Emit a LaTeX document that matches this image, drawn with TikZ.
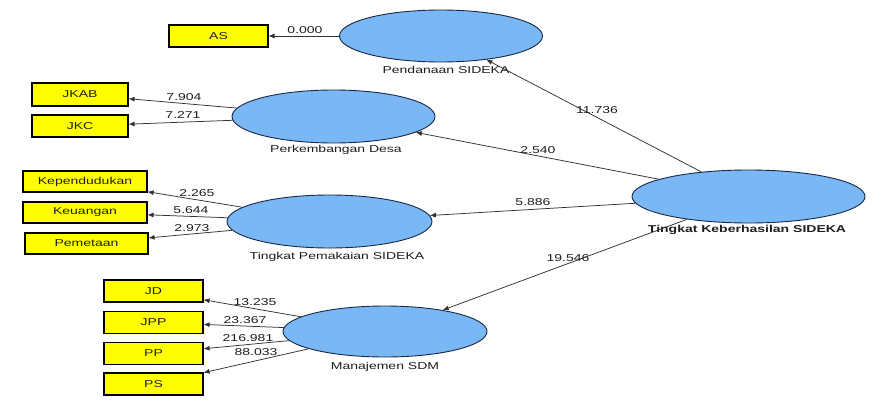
\documentclass[tikz,border=0pt]{standalone}
\usepackage{fontspec}
\setmainfont{Liberation Sans}[FakeStretch=1.4]
\usetikzlibrary{shapes.geometric,arrows.meta}
\definecolor{lvfill}{RGB}{122,183,245}
\definecolor{lvdraw}{RGB}{25,40,70}
\definecolor{mvfill}{RGB}{255,255,0}
\definecolor{edgecol}{RGB}{50,50,50}
\definecolor{txtcol}{RGB}{30,30,30}
\tikzset{
  lv/.style={ellipse, draw=lvdraw, line width=0.9pt, fill=lvfill, inner sep=0pt},
  mv/.style={rectangle, draw=black, line width=1.1pt, fill=mvfill, inner sep=0pt,
             minimum width=99pt, minimum height=22pt, font=\fontsize{10}{12}\selectfont, text=txtcol},
  lvlabel/.style={font=\fontsize{10}{12}\selectfont, text=txtcol, inner sep=0pt},
  elab/.style={font=\fontsize{10}{12}\selectfont, text=txtcol, inner sep=0pt},
  arr/.style={draw=edgecol, line width=0.75pt, -{Latex[length=6pt,width=5pt]}}
}
\begin{document}
\begin{tikzpicture}[x=1pt,y=-1pt]
\useasboundingbox[fill=white] (0,0) rectangle (885,412);
% latent variables
\node[lv, minimum width=203pt, minimum height=52pt] (pd) at (441,36) {};
\node[lv, minimum width=203pt, minimum height=53pt] (pk) at (333.5,116.5) {};
\node[lv, minimum width=205pt, minimum height=53pt] (tp) at (329.5,221.5) {};
\node[lv, minimum width=204pt, minimum height=51pt] (ms) at (385,331.5) {};
\node[lv, minimum width=233pt, minimum height=53pt] (tk) at (748.5,196.5) {};
% latent labels
\node[lvlabel] (pdl) at (446,70) {Pendanaan SIDEKA};
\node[lvlabel] (pkl) at (336,150) {Perkembangan Desa};
\node[lvlabel] (tpl) at (337,257) {Tingkat Pemakaian SIDEKA};
\node[lvlabel] (msl) at (385,367) {Manajemen SDM};
\node[lvlabel, font=\fontsize{10}{12}\selectfont\bfseries] (tkl) at (747,230) {Tingkat Keberhasilan SIDEKA};
% indicators
\node[mv] (as) at (218.5,36) {AS};
\node[mv, minimum width=96pt, minimum height=23pt] (jkab) at (80,94.5) {JKAB};
\node[mv, minimum width=96pt] (jkc) at (80,126) {JKC};
\node[mv, minimum width=124pt, minimum height=21pt] (kep) at (85,181.5) {Kependudukan};
\node[mv, minimum width=124pt, minimum height=21pt] (keu) at (85,212.5) {Keuangan};
\node[mv, minimum width=123pt, minimum height=21pt] (pem) at (86.5,243.5) {Pemetaan};
\node[mv] (jd) at (153.5,291) {JD};
\node[mv] (jpp) at (153.5,322.5) {JPP};
\node[mv] (pp) at (153.5,353.5) {PP};
\node[mv] (ps) at (153.5,384) {PS};
% structural paths
\draw[arr] (tk) -- (pd) node[elab] at (597,110) {11.736};
\draw[arr] (tk) -- (pk) node[elab] at (538,150) {2.540};
\draw[arr] (tk) -- (tp) node[elab] at (533,202) {5.886};
\draw[arr] (tk) -- (ms) node[elab] at (568,258) {19.546};
% measurement paths
\draw[arr] (pd) -- (as) node[elab] at (305,30) {0.000};
\draw[arr] (pk) -- (jkab) node[elab] at (184,97) {7.904};
\draw[arr] (pk) -- (jkc) node[elab] at (183,115) {7.271};
\draw[arr] (tp) -- (kep) node[elab] at (197,193) {2.265};
\draw[arr] (tp) -- (keu) node[elab] at (191,210.5) {5.644};
\draw[arr] (tp) -- (pem) node[elab] at (192,228) {2.973};
\draw[arr] (ms) -- (jd) node[elab] at (255,302) {13.235};
\draw[arr] (ms) -- (jpp) node[elab] at (245,320) {23.367};
\draw[arr] (ms) -- (pp) node[elab] at (248,338) {216.981};
\draw[arr] (ms) -- (ps) node[elab] at (256,352) {88.033};
\end{tikzpicture}
\end{document}
